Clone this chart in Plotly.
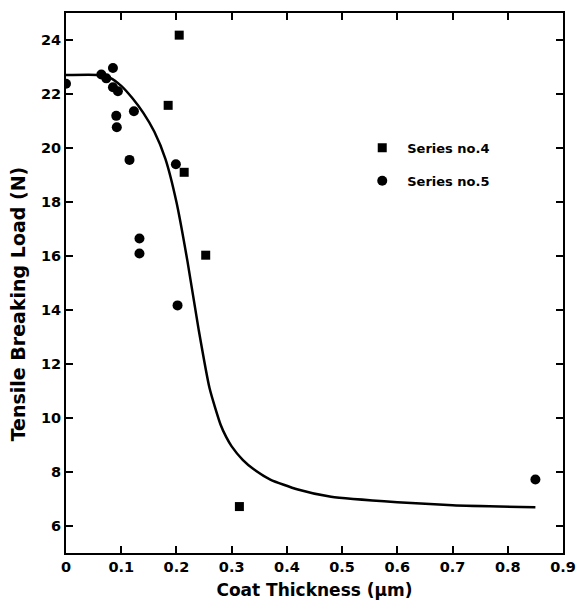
import plotly.graph_objects as go

# Series no.4 (squares)
s4_x = [0.205, 0.185, 0.214, 0.253, 0.314]
s4_y = [24.18, 21.58, 19.10, 16.03, 6.72]

# Series no.5 (circles)
s5_x = [0.0, 0.064, 0.073, 0.085, 0.085, 0.094, 0.091, 0.092, 0.123, 0.115,
        0.133, 0.133, 0.199, 0.202, 0.850]
s5_y = [22.38, 22.72, 22.58, 22.96, 22.25, 22.10, 21.19, 20.77, 21.36, 19.56,
        16.65, 16.09, 19.40, 14.17, 7.72]

# Fitted curve
curve_x = [0.0, 0.06, 0.08, 0.10, 0.12, 0.14, 0.16, 0.18, 0.20, 0.22, 0.24,
           0.26, 0.28, 0.29, 0.30, 0.32, 0.34, 0.37, 0.42, 0.48, 0.60, 0.70, 0.85]
curve_y = [22.7, 22.7, 22.6, 22.3, 21.85, 21.3, 20.6, 19.6, 18.0, 15.8, 13.3,
           11.1, 9.75, 9.3, 8.95, 8.45, 8.1, 7.72, 7.35, 7.08, 6.88, 6.77, 6.69]

x_ticks = [0, 0.1, 0.2, 0.3, 0.4, 0.5, 0.6, 0.7, 0.8, 0.9]
x_tick_labels = ["0", "0.1", "0.2", "0.3", "0.4", "0.5", "0.6", "0.7", "0.8", "0.9"]
y_ticks = [6, 8, 10, 12, 14, 16, 18, 20, 22, 24]

FONT = "DejaVu Sans"

fig = go.Figure()
fig.add_trace(go.Scatter(x=curve_x, y=curve_y, mode="lines",
                         line=dict(color="black", width=2.5, shape="spline", smoothing=0.6),
                         showlegend=False, hoverinfo="skip"))
fig.add_trace(go.Scatter(x=s4_x, y=s4_y, mode="markers", name="Series no.4",
                         legendgroup="a",
                         marker=dict(symbol="square", size=9, color="black")))
fig.add_trace(go.Scatter(x=s5_x, y=s5_y, mode="markers", name="Series no.5",
                         legendgroup="b",
                         marker=dict(symbol="circle", size=10, color="black")))

axis_common = dict(showline=True, linecolor="black", linewidth=2, mirror="ticks",
                   ticks="inside", ticklen=7, tickwidth=1.5, tickcolor="black",
                   showgrid=False, zeroline=False, automargin=False,
                   ticklabeloverflow="allow",
                   tickfont=dict(family=FONT, size=14.5, color="black", weight="bold"))

fig.update_xaxes(range=[0, 0.9], tickvals=x_ticks, ticktext=x_tick_labels,
                 title=dict(text="Coat Thickness (μm)", standoff=10,
                            font=dict(family=FONT, size=17, color="black", weight="bold")),
                 **axis_common)
fig.update_yaxes(range=[5, 25], tickvals=y_ticks, **axis_common)

fig.add_annotation(text="Tensile Breaking Load (N)", textangle=-90,
                   xref="paper", yref="paper", x=-0.096, y=0.461,
                   xanchor="center", yanchor="middle", showarrow=False,
                   font=dict(family=FONT, size=19, color="black", weight="bold"))

fig.update_layout(width=576, height=603, paper_bgcolor="white", plot_bgcolor="white",
                  margin=dict(l=66, r=13, t=13, b=50),
                  legend=dict(x=0.586, y=0.778, xanchor="left", yanchor="top",
                              bgcolor="rgba(0,0,0,0)", itemwidth=40, tracegroupgap=13,
                              font=dict(family=FONT, size=13, color="black", weight="bold")))

fig.write_html("out.html", config={"displayModeBar": False},
               post_script="document.body.style.margin='0';document.body.style.padding='0';")
